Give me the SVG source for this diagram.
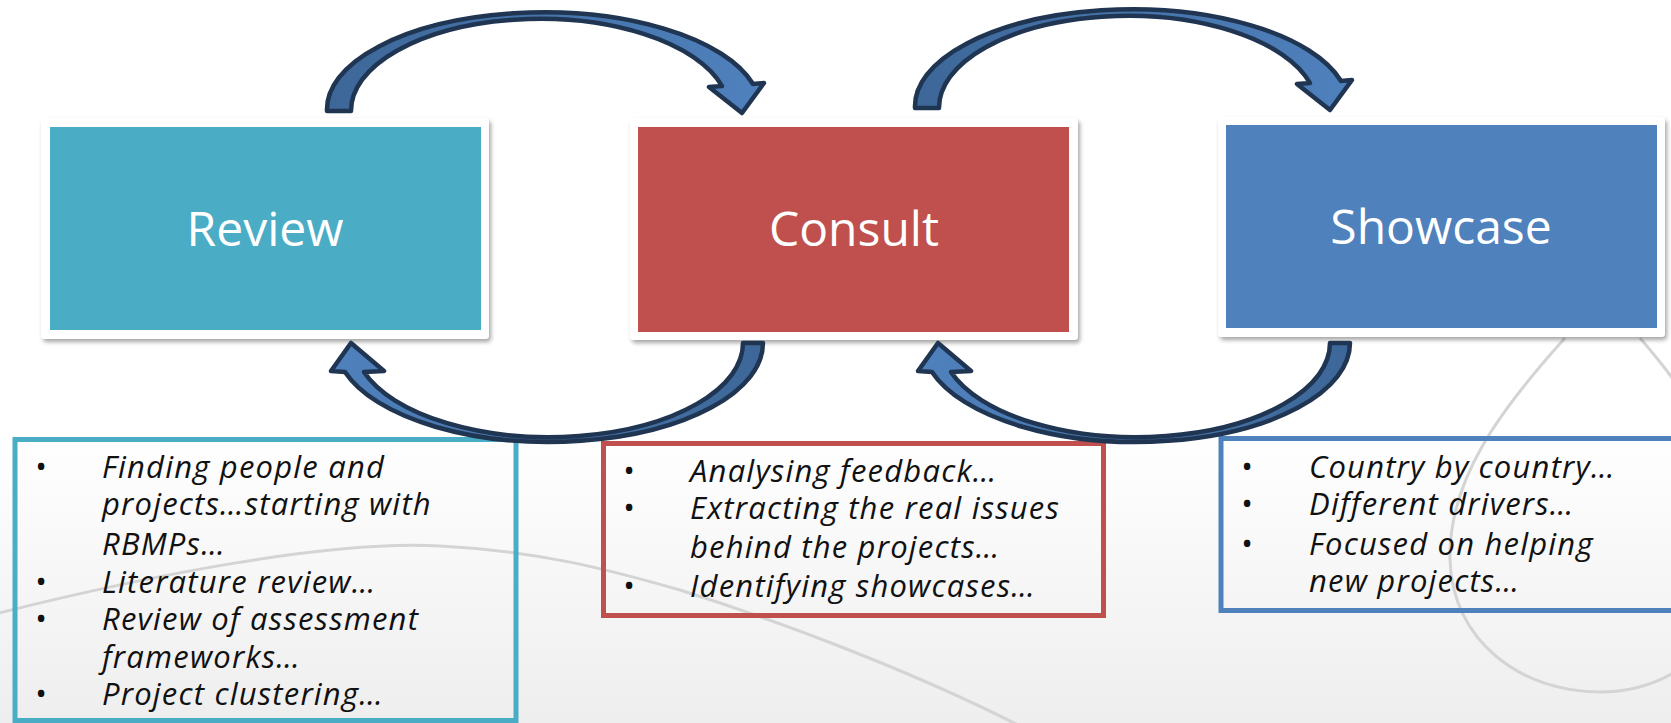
<svg xmlns="http://www.w3.org/2000/svg" width="1671" height="723" viewBox="0 0 1671 723">
<defs>
<style>
.title{font-family:"Open Sans","Liberation Sans",sans-serif;font-size:48px;fill:#ffffff;text-anchor:middle}
.body{font-family:"Open Sans","Liberation Sans",sans-serif;font-size:31px;font-style:italic;letter-spacing:1.2px;fill:#111111}
.bul{font-family:"Open Sans","Liberation Sans",sans-serif;font-size:31px;fill:#111111;text-anchor:middle}
.card{fill:#ffffff;filter:url(#shadow)}
.arrow{stroke:#1f3552;stroke-width:4.5;stroke-linejoin:round}
.bgline{fill:none;stroke:#d4d4d4;stroke-width:3}
</style>
<linearGradient id="bg" x1="0" y1="0" x2="0" y2="1">
<stop offset="0" stop-color="#ffffff"/>
<stop offset="0.6" stop-color="#ffffff"/>
<stop offset="1" stop-color="#eeeeee"/>
</linearGradient>
<linearGradient id="gTop" x1="0" y1="0" x2="1" y2="0">
<stop offset="0" stop-color="#3d6798"/>
<stop offset="1" stop-color="#4f81bd"/>
</linearGradient>
<linearGradient id="gBot" x1="1" y1="0" x2="0" y2="0">
<stop offset="0" stop-color="#3d6798"/>
<stop offset="1" stop-color="#4f81bd"/>
</linearGradient>
<filter id="shadow" x="-5%" y="-5%" width="110%" height="115%">
<feDropShadow dx="2" dy="3" stdDeviation="2" flood-color="#000000" flood-opacity="0.35"/>
</filter>
</defs>
<rect x="0" y="0" width="1671" height="723" fill="url(#bg)"/>
<g id="background-curves">
<path class="bgline" d="M -5,614 C 150,575 330,540 440,546 C 540,551 610,570 680,590 C 760,615 900,665 1020,726"/>
<path class="bgline" d="M 1565,338 C 1500,410 1448,480 1450,560 C 1452,640 1520,692 1600,692 C 1630,692 1655,684 1675,672"/>
<path class="bgline" d="M 1640,338 C 1652,352 1664,366 1675,382"/>
</g>
<g id="node-review">
<rect class="card" x="41" y="118" width="448" height="221" rx="4"/>
<rect x="50" y="127" width="431" height="203" fill="#4bacc6"/>
<text class="title" x="265" y="246">Review</text>
</g>
<g id="node-consult">
<rect class="card" x="630" y="118" width="448" height="222" rx="4"/>
<rect x="638" y="127" width="431" height="205" fill="#c0504d"/>
<text class="title" x="854" y="246">Consult</text>
</g>
<g id="node-showcase">
<rect class="card" x="1218" y="117" width="447" height="220" rx="4"/>
<rect x="1226" y="125" width="431" height="203" fill="#4f81bd"/>
<text class="title" x="1441" y="244">Showcase</text>
</g>
<g id="notes-review">
<rect x="15" y="439.5" width="501" height="281" fill="none" stroke="#4bacc6" stroke-width="5"/>
<text class="bul" x="41" y="478">•</text>
<text class="body" x="102" y="478">Finding people and</text>
<text class="body" x="102" y="515">projects…starting with</text>
<text class="body" x="102" y="555">RBMPs…</text>
<text class="bul" x="41" y="593">•</text>
<text class="body" x="102" y="593">Literature review…</text>
<text class="bul" x="41" y="630">•</text>
<text class="body" x="102" y="630">Review of assessment</text>
<text class="body" x="102" y="668">frameworks…</text>
<text class="bul" x="41" y="705">•</text>
<text class="body" x="102" y="705">Project clustering…</text>
</g>
<g id="notes-consult">
<rect x="603.5" y="443.5" width="500" height="172" fill="none" stroke="#c0504d" stroke-width="5"/>
<text class="bul" x="629" y="482">•</text>
<text class="body" x="690" y="482">Analysing feedback…</text>
<text class="bul" x="629" y="519">•</text>
<text class="body" x="690" y="519">Extracting the real issues</text>
<text class="body" x="690" y="558">behind the projects…</text>
<text class="bul" x="629" y="597">•</text>
<text class="body" x="690" y="597">Identifying showcases…</text>
</g>
<g id="notes-showcase">
<rect x="1221" y="438.5" width="470" height="172" fill="none" stroke="#4f81bd" stroke-width="5"/>
<text class="bul" x="1247" y="478">•</text>
<text class="body" x="1309" y="478">Country by country…</text>
<text class="bul" x="1247" y="515">•</text>
<text class="body" x="1309" y="515">Different drivers…</text>
<text class="bul" x="1247" y="555">•</text>
<text class="body" x="1309" y="555">Focused on helping</text>
<text class="body" x="1309" y="592">new projects…</text>
</g>
<g id="connectors">
<path id="arrow-review-consult" class="arrow" fill="url(#gTop)" d="M 327,111 A 216.8 97 0 0 1 753,84 L 764,83 L 742,113 L 709,87 L 722,86 A 189 92 0 0 0 351,111 Z"/>
<path id="arrow-consult-showcase" class="arrow" fill="url(#gTop)" transform="translate(588,-3)" d="M 327,111 A 216.8 97 0 0 1 753,84 L 764,83 L 742,113 L 709,87 L 722,86 A 189 92 0 0 0 351,111 Z"/>
<path id="arrow-consult-review" class="arrow" fill="url(#gBot)" d="M 763,343 A 213.7 99 0 0 1 345,372 L 331,371 L 351,343 L 384,371 L 364,372 A 194.2 94 0 0 0 743,343 Z"/>
<path id="arrow-showcase-consult" class="arrow" fill="url(#gBot)" transform="translate(587,0)" d="M 763,343 A 213.7 99 0 0 1 345,372 L 331,371 L 351,343 L 384,371 L 364,372 A 194.2 94 0 0 0 743,343 Z"/>
</g>
</svg>
